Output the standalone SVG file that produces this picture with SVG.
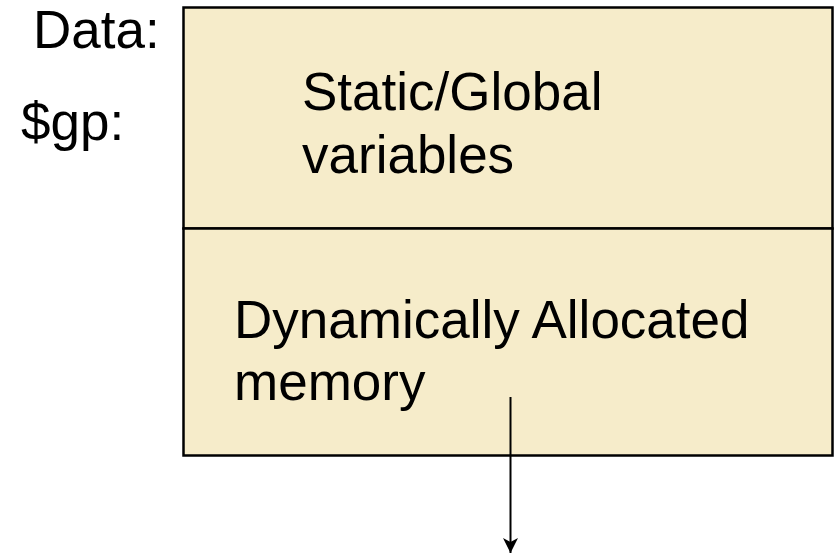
<svg xmlns="http://www.w3.org/2000/svg" width="840" height="555" viewBox="0 0 840 555">
<style>
text{font-family:"Liberation Sans",Arial,sans-serif;font-size:53px;fill:#000}
.box{fill:#f6ecca;stroke:#000;stroke-width:2.5}
</style>
<defs>
<marker id="ah" markerWidth="16" markerHeight="15" refX="15" refY="7.5" orient="auto" markerUnits="userSpaceOnUse">
<path d="M0,0 L15,7.5 L0,15 L4,7.5 Z" fill="#000"/>
</marker>
</defs>
<rect width="840" height="555" fill="#fff"/>
<g id="labels">
<text x="33" y="48">Data:</text>
<text x="21" y="140">$gp:</text>
</g>
<g id="static">
<rect class="box" x="183.5" y="7.5" width="649" height="221"/>
<text x="302" y="110">Static/Global</text>
<text x="302" y="173">variables</text>
</g>
<g id="dynamic">
<rect class="box" x="183.5" y="228.5" width="649" height="227"/>
<text x="234" y="338">Dynamically Allocated</text>
<text x="234" y="400">memory</text>
</g>
<g id="connectors">
<line x1="510.5" y1="397" x2="510.5" y2="553" stroke="#000" stroke-width="2" marker-end="url(#ah)"/>
</g>
</svg>
